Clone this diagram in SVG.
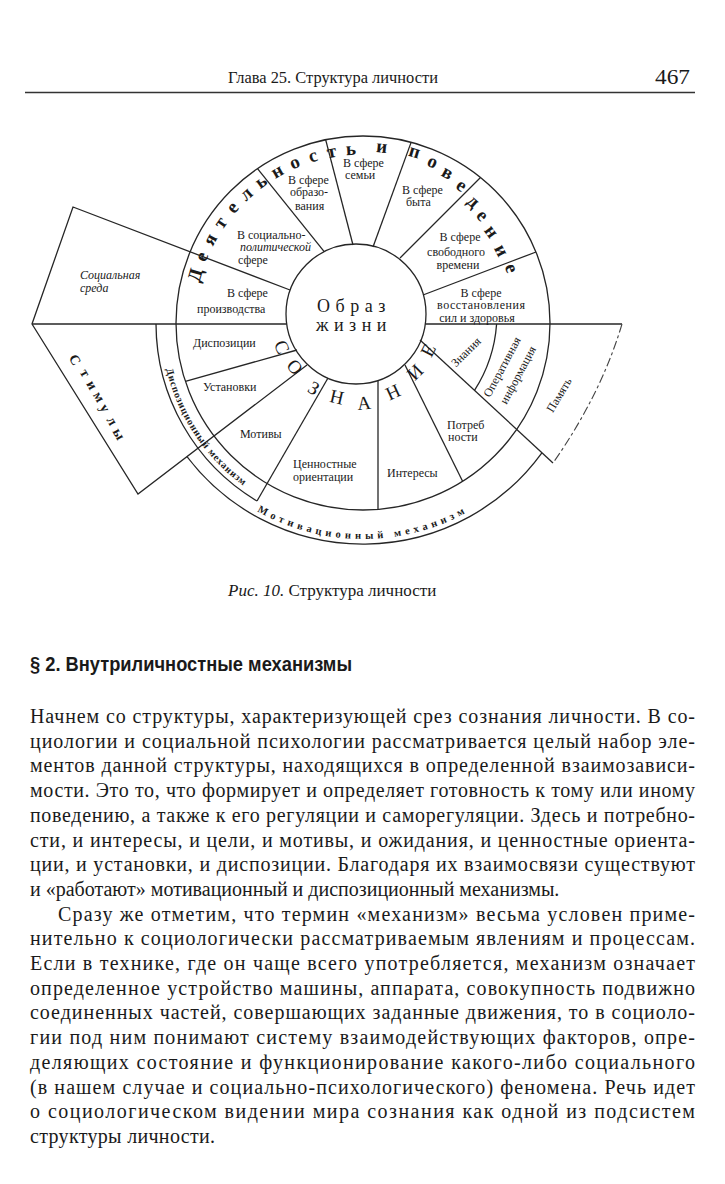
<svg xmlns="http://www.w3.org/2000/svg" width="725" height="1184" viewBox="0 0 725 1184">
<style>
.ln{fill:none;stroke:#262626;stroke-width:1.3}
.dash{fill:none;stroke:#444;stroke-width:1.1;stroke-dasharray:9 3 3 3}
.lbl{font-family:"Liberation Serif",serif;font-size:12px;fill:#1a1a1a}
.it{font-style:italic}
.big{font-family:"Liberation Serif",serif;font-size:19px;font-weight:bold;fill:#1a1a1a;text-anchor:middle;dominant-baseline:central}
.soz{font-family:"Liberation Serif",serif;font-size:19px;fill:#1a1a1a;text-anchor:middle;dominant-baseline:central}
.stim{font-family:"Liberation Serif",serif;font-size:14px;font-weight:bold;fill:#1a1a1a;text-anchor:middle;dominant-baseline:central}
.band{font-family:"Liberation Serif",serif;font-size:10px;font-weight:bold;fill:#1a1a1a}
.body{font-family:"Liberation Serif",serif;font-size:20px;fill:#1a1a1a}
</style>
<defs>
<path id="dispPath" d="M163,351.1 A202,202 0 0 0 259,496.2"/>
<path id="motPath" d="M239.1,499.9 A216,216 0 0 0 486.9,499.9"/>
</defs>
<rect width="725" height="1184" fill="#fff"/>

<g id="page-header">
<text x="228" y="83" style="font-family:'Liberation Serif',serif;font-size:17.5px;fill:#1a1a1a" textLength="210" lengthAdjust="spacingAndGlyphs">Глава 25. Структура личности</text>
<text x="655" y="84" style="font-family:'Liberation Serif',serif;font-size:20px;fill:#1a1a1a" textLength="35" lengthAdjust="spacingAndGlyphs">467</text>
<line x1="25" y1="92.5" x2="695" y2="92.5" stroke="#333" stroke-width="1.5"/>
</g>

<g id="connectors">
<circle class="ln" cx="356" cy="314" r="70"/>
<circle class="ln" cx="363" cy="323" r="187"/>
<path class="ln" d="M32,324 H286.7"/>
<path class="ln" d="M425.3,324 H622"/>
<path class="ln" d="M290,290 L73,207 L32,324 L138,494 L307,365"/>
<path class="ln" d="M324.2,251.6 L257.5,168.7"/>
<path class="ln" d="M353,245 L325.7,139.8"/>
<path class="ln" d="M373,247 L411.1,142.4"/>
<path class="ln" d="M400,258 L480.5,177.5"/>
<path class="ln" d="M423,295 L536,252"/>
<path class="ln" d="M297,350 L185.4,381.3"/>
<path class="ln" d="M328,378 L257,501"/>
<path class="ln" d="M378,380.5 L378,509.4"/>
<path class="ln" d="M405,365 L462.6,481.2"/>
<path class="ln" d="M420,340 L553,463"/>
<path class="ln" d="M496.6,324 A141,141 0 0 1 474.5,390.4"/>
<path class="ln" d="M156,324 A207,207 0 0 0 257,501"/>
<path class="ln" d="M187,456.7 A221,221 0 0 0 541.9,452.8"/>
<path class="dash" d="M622,324 Q601,394.5 553,463"/>
</g>

<g id="node-obraz-zhizni">
<text x="354" y="312" style="font-family:'Liberation Serif',serif;font-size:18px;fill:#1a1a1a;letter-spacing:5.5px" text-anchor="middle">Образ</text>
<text x="354" y="331" style="font-family:'Liberation Serif',serif;font-size:18px;fill:#1a1a1a;letter-spacing:5.5px" text-anchor="middle">жизни</text>
</g>

<g id="node-deyatelnost-i-povedenie">
<text class="big" x="194.8" y="274.8" transform="rotate(-74 194.8 274.8)">Д</text>
<text class="big" x="201.2" y="256.3" transform="rotate(-67.6 201.2 256.3)">е</text>
<text class="big" x="209.5" y="239" transform="rotate(-61.3 209.5 239)">я</text>
<text class="big" x="219.8" y="222.4" transform="rotate(-54.9 219.8 222.4)">т</text>
<text class="big" x="231.9" y="207" transform="rotate(-48.5 231.9 207)">е</text>
<text class="big" x="245.5" y="193.4" transform="rotate(-42.2 245.5 193.4)">л</text>
<text class="big" x="260.6" y="181.1" transform="rotate(-35.8 260.6 181.1)">ь</text>
<text class="big" x="276.8" y="170.7" transform="rotate(-29.5 276.8 170.7)">н</text>
<text class="big" x="294.3" y="162" transform="rotate(-23.1 294.3 162)">о</text>
<text class="big" x="312.7" y="155.4" transform="rotate(-16.7 312.7 155.4)">с</text>
<text class="big" x="331.4" y="150.9" transform="rotate(-10.4 331.4 150.9)">т</text>
<text class="big" x="350.8" y="148.4" transform="rotate(-4 350.8 148.4)">ь</text>
<text class="big" x="382" y="146" transform="rotate(6 382 146)">и</text>
<text class="big" x="415" y="151" transform="rotate(17 415 151)">п</text>
<text class="big" x="433" y="161" transform="rotate(23 433 161)">о</text>
<text class="big" x="448" y="172" transform="rotate(29 448 172)">в</text>
<text class="big" x="462" y="185" transform="rotate(35.5 462 185)">е</text>
<text class="big" x="474" y="201" transform="rotate(42 474 201)">д</text>
<text class="big" x="483" y="215" transform="rotate(47.5 483 215)">е</text>
<text class="big" x="492" y="231" transform="rotate(54 492 231)">н</text>
<text class="big" x="502" y="250" transform="rotate(62.5 502 250)">и</text>
<text class="big" x="512" y="268" transform="rotate(70 512 268)">е</text>
</g>

<g id="node-soznanie">
<text class="soz" x="282" y="347" transform="rotate(66 282 347)">С</text>
<text class="soz" x="295" y="367" transform="rotate(49 295 367)">О</text>
<text class="soz" x="314" y="388" transform="rotate(30 314 388)">З</text>
<text class="soz" x="337" y="397" transform="rotate(13 337 397)">Н</text>
<text class="soz" x="364" y="403" transform="rotate(-5 364 403)">А</text>
<text class="soz" x="393" y="392" transform="rotate(-25 393 392)">Н</text>
<text class="soz" x="415" y="372" transform="rotate(-45 415 372)">И</text>
<text class="soz" x="428" y="350" transform="rotate(-63 428 350)">Е</text>
</g>

<g id="node-proizvodstvo">
<text class="lbl" x="227" y="297">В сфере</text>
<text class="lbl" x="197" y="313">производства</text>
</g>
<g id="node-socpolit">
<text class="lbl" x="237" y="239">В социально-</text>
<text class="lbl it" x="240" y="251">политической</text>
<text class="lbl" x="238" y="264">сфере</text>
</g>
<g id="node-obrazovanie">
<text class="lbl" x="288" y="184">В сфере</text>
<text class="lbl" x="290" y="196">образо-</text>
<text class="lbl" x="295" y="210">вания</text>
</g>
<g id="node-semya">
<text class="lbl" x="343" y="167">В сфере</text>
<text class="lbl" x="345" y="179">семьи</text>
</g>
<g id="node-byt">
<text class="lbl" x="402" y="194">В сфере</text>
<text class="lbl" x="406" y="206">быта</text>
</g>
<g id="node-svobodnoe-vremya">
<text class="lbl" x="460" y="241" text-anchor="middle">В сфере</text>
<text class="lbl" x="456" y="256" text-anchor="middle">свободного</text>
<text class="lbl" x="458" y="269" text-anchor="middle">времени</text>
</g>
<g id="node-vosstanovlenie">
<text class="lbl" x="481" y="297" text-anchor="middle">В сфере</text>
<text class="lbl" x="481" y="309" text-anchor="middle" textLength="88" lengthAdjust="spacing">восстановления</text>
<text class="lbl" x="477" y="322" text-anchor="middle">сил и здоровья</text>
</g>
<g id="node-socialnaya-sreda">
<text class="lbl it" x="80" y="279">Социальная</text>
<text class="lbl it" x="80" y="292">среда</text>
</g>
<g id="node-stimuly">
<text class="stim" x="75" y="360" transform="rotate(60 75 360)">С</text>
<text class="stim" x="85" y="373" transform="rotate(60 85 373)">т</text>
<text class="stim" x="92" y="385" transform="rotate(60 92 385)">и</text>
<text class="stim" x="99" y="397" transform="rotate(60 99 397)">м</text>
<text class="stim" x="105" y="408" transform="rotate(60 105 408)">у</text>
<text class="stim" x="112" y="421" transform="rotate(60 112 421)">л</text>
<text class="stim" x="119" y="434" transform="rotate(60 119 434)">ы</text>
</g>
<g id="node-dispozicii"><text class="lbl" x="193" y="347">Диспозиции</text></g>
<g id="node-ustanovki"><text class="lbl" x="203" y="391">Установки</text></g>
<g id="node-motivy"><text class="lbl" x="240" y="438">Мотивы</text></g>
<g id="node-cennostnye">
<text class="lbl" x="293" y="468">Ценностные</text>
<text class="lbl" x="293" y="481">ориентации</text>
</g>
<g id="node-interesy"><text class="lbl" x="387" y="477">Интересы</text></g>
<g id="node-potrebnosti">
<text class="lbl" x="447" y="429">Потреб</text>
<text class="lbl" x="448" y="441">ности</text>
</g>
<g id="node-znaniya">
<text class="lbl" x="466" y="356" text-anchor="middle" transform="rotate(-45 466 352)">Знания</text>
</g>
<g id="node-operativnaya">
<text class="lbl" x="502" y="371" text-anchor="middle" transform="rotate(-62 502 367)">Оперативная</text>
<text class="lbl" x="518" y="379" text-anchor="middle" transform="rotate(-62 518 375)">информация</text>
</g>
<g id="node-pamyat">
<text class="lbl" x="559" y="399" text-anchor="middle" transform="rotate(-59 559 395)">Память</text>
</g>
<g id="node-disp-mechanism">
<text class="band" style="letter-spacing:0.8px"><textPath href="#dispPath" startOffset="50%" text-anchor="middle">Диспозиционный механизм</textPath></text>
</g>
<g id="node-mot-mechanism">
<text class="band" style="letter-spacing:4.2px;font-size:10.5px"><textPath href="#motPath" startOffset="50%" text-anchor="middle">Мотивационный механизм</textPath></text>
</g>

<g id="caption">
<text x="228" y="596" style="font-family:'Liberation Serif',serif;font-size:17px;fill:#1a1a1a"><tspan font-style="italic">Рис. 10.</tspan> Структура личности</text>
</g>

<g id="section-heading">
<text x="30" y="671" style="font-family:'Liberation Sans',sans-serif;font-size:21px;font-weight:bold;fill:#1a1a1a" textLength="322" lengthAdjust="spacingAndGlyphs">§ 2. Внутриличностные механизмы</text>
</g>

<g id="body-text">
<text class="body" x="30" y="723" textLength="665" lengthAdjust="spacing">Начнем со структуры, характеризующей срез сознания личности. В со-</text>
<text class="body" x="30" y="747.7" textLength="665" lengthAdjust="spacing">циологии и социальной психологии рассматривается целый набор эле-</text>
<text class="body" x="30" y="772.4" textLength="665" lengthAdjust="spacing">ментов данной структуры, находящихся в определенной взаимозависи-</text>
<text class="body" x="30" y="797.1" textLength="665" lengthAdjust="spacing">мости. Это то, что формирует и определяет готовность к тому или иному</text>
<text class="body" x="30" y="821.8" textLength="665" lengthAdjust="spacing">поведению, а также к его регуляции и саморегуляции. Здесь и потребно-</text>
<text class="body" x="30" y="846.5" textLength="665" lengthAdjust="spacing">сти, и интересы, и цели, и мотивы, и ожидания, и ценностные ориента-</text>
<text class="body" x="30" y="871.2" textLength="665" lengthAdjust="spacing">ции, и установки, и диспозиции. Благодаря их взаимосвязи существуют</text>
<text class="body" x="30" y="895.9">и «работают» мотивационный и диспозиционный механизмы.</text>
<text class="body" x="58" y="920.6" textLength="637" lengthAdjust="spacing">Сразу же отметим, что термин «механизм» весьма условен приме-</text>
<text class="body" x="30" y="945.3" textLength="665" lengthAdjust="spacing">нительно к социологически рассматриваемым явлениям и процессам.</text>
<text class="body" x="30" y="970" textLength="665" lengthAdjust="spacing">Если в технике, где он чаще всего употребляется, механизм означает</text>
<text class="body" x="30" y="994.7" textLength="665" lengthAdjust="spacing">определенное устройство машины, аппарата, совокупность подвижно</text>
<text class="body" x="30" y="1019.4" textLength="665" lengthAdjust="spacing">соединенных частей, совершающих заданные движения, то в социоло-</text>
<text class="body" x="30" y="1044.1" textLength="665" lengthAdjust="spacing">гии под ним понимают систему взаимодействующих факторов, опре-</text>
<text class="body" x="30" y="1068.8" textLength="665" lengthAdjust="spacing">деляющих состояние и функционирование какого-либо социального</text>
<text class="body" x="30" y="1093.5" textLength="665" lengthAdjust="spacing">(в нашем случае и социально-психологического) феномена. Речь идет</text>
<text class="body" x="30" y="1118.2" textLength="665" lengthAdjust="spacing">о социологическом видении мира сознания как одной из подсистем</text>
<text class="body" x="30" y="1142.9" textLength="185" lengthAdjust="spacing">структуры личности.</text>
</g>
</svg>
